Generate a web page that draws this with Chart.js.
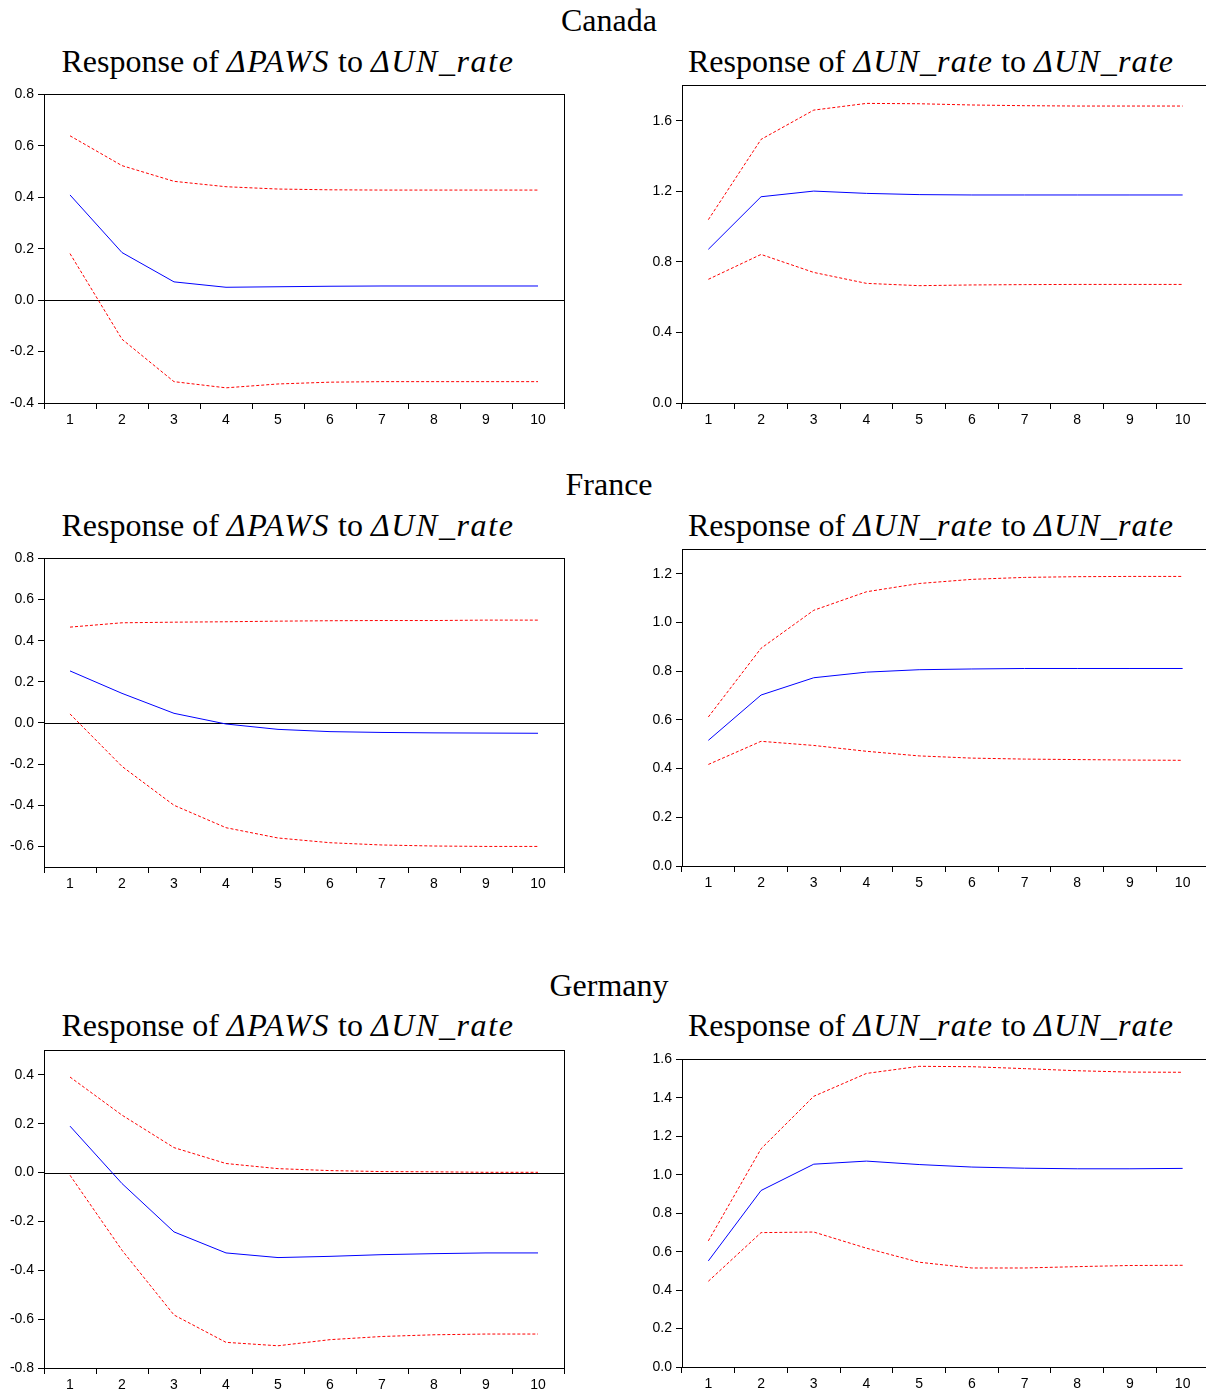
<!DOCTYPE html>
<html>
<head>
<meta charset="utf-8">
<title>Impulse responses to ΔUN_rate</title>
<script src="https://cdn.jsdelivr.net/npm/chart.js@4.4.0/dist/chart.umd.min.js"></script>
<style>
  html, body { margin: 0; padding: 0; background: #fff; }
  body { position: relative; width: 1206px; height: 1391px; overflow: hidden; }
  .t {
    position: absolute;
    font-family: "Liberation Serif", "Times New Roman", serif;
    font-size: 32px;
    line-height: 32px;
    white-space: nowrap;
    color: #000;
    transform: translate(-50%, -50%);
  }
  .m { font-style: italic; letter-spacing: 1.6px; }
  .r .m { letter-spacing: 1.15px; }
  canvas { position: absolute; }
</style>
</head>
<body>

<div class="t" style="left:609px; top:20px;">Canada</div>
<div class="t" style="left:288px; top:61px;">Response of <span class="m">ΔPAWS</span> to <span class="m">ΔUN_rate</span></div>
<div class="t r" style="left:931px; top:61px;">Response of <span class="m">ΔUN_rate</span> to <span class="m">ΔUN_rate</span></div>

<div class="t" style="left:609px; top:484px;">France</div>
<div class="t" style="left:288px; top:525px;">Response of <span class="m">ΔPAWS</span> to <span class="m">ΔUN_rate</span></div>
<div class="t r" style="left:931px; top:525px;">Response of <span class="m">ΔUN_rate</span> to <span class="m">ΔUN_rate</span></div>

<div class="t" style="left:609px; top:985px;">Germany</div>
<div class="t" style="left:288px; top:1025px;">Response of <span class="m">ΔPAWS</span> to <span class="m">ΔUN_rate</span></div>
<div class="t r" style="left:931px; top:1025px;">Response of <span class="m">ΔUN_rate</span> to <span class="m">ΔUN_rate</span></div>

<canvas id="caPaws"></canvas>
<canvas id="caUn"></canvas>
<canvas id="frPaws"></canvas>
<canvas id="frUn"></canvas>
<canvas id="dePaws"></canvas>
<canvas id="deUn"></canvas>

<script>
// Forecast horizons (periods after the shock)
const horizons = ['1', '2', '3', '4', '5', '6', '7', '8', '9', '10'];

// Canada: response of ΔPAWS to ΔUN_rate (point estimate and ±2 S.E. bands)
const caPawsMid = [0.409, 0.185, 0.071, 0.050, 0.052, 0.054, 0.055, 0.055, 0.055, 0.055];
const caPawsHi  = [0.639, 0.523, 0.462, 0.441, 0.432, 0.429, 0.428, 0.428, 0.428, 0.428];
const caPawsLo  = [0.181, -0.152, -0.317, -0.341, -0.326, -0.319, -0.317, -0.317, -0.317, -0.317];

// Canada: response of ΔUN_rate to ΔUN_rate
const caUnMid = [0.871, 1.169, 1.201, 1.188, 1.181, 1.179, 1.179, 1.179, 1.179, 1.179];
const caUnHi  = [1.039, 1.494, 1.660, 1.698, 1.696, 1.689, 1.685, 1.683, 1.683, 1.683];
const caUnLo  = [0.701, 0.842, 0.740, 0.678, 0.665, 0.669, 0.671, 0.672, 0.672, 0.672];

// France: response of ΔPAWS to ΔUN_rate
const frPawsMid = [0.253, 0.144, 0.047, -0.005, -0.031, -0.042, -0.046, -0.048, -0.049, -0.050];
const frPawsHi  = [0.466, 0.487, 0.490, 0.492, 0.495, 0.497, 0.498, 0.498, 0.500, 0.500];
const frPawsLo  = [0.044, -0.211, -0.400, -0.509, -0.559, -0.582, -0.593, -0.598, -0.600, -0.600];

// France: response of ΔUN_rate to ΔUN_rate
const frUnMid = [0.516, 0.702, 0.773, 0.796, 0.806, 0.809, 0.811, 0.811, 0.811, 0.811];
const frUnHi  = [0.612, 0.894, 1.050, 1.126, 1.160, 1.177, 1.185, 1.188, 1.189, 1.189];
const frUnLo  = [0.417, 0.512, 0.495, 0.471, 0.452, 0.443, 0.439, 0.437, 0.435, 0.434];

// Germany: response of ΔPAWS to ΔUN_rate
const dePawsMid = [0.190, -0.045, -0.243, -0.329, -0.348, -0.343, -0.336, -0.332, -0.329, -0.329];
const dePawsHi  = [0.391, 0.235, 0.102, 0.037, 0.016, 0.008, 0.004, 0.003, 0.001, 0.001];
const dePawsLo  = [-0.011, -0.318, -0.583, -0.695, -0.709, -0.684, -0.671, -0.664, -0.661, -0.661];

// Germany: response of ΔUN_rate to ΔUN_rate
const deUnMid = [0.552, 0.918, 1.055, 1.071, 1.053, 1.040, 1.034, 1.031, 1.031, 1.033];
const deUnHi  = [0.656, 1.135, 1.408, 1.527, 1.564, 1.562, 1.552, 1.541, 1.534, 1.533];
const deUnLo  = [0.446, 0.699, 0.702, 0.618, 0.545, 0.515, 0.515, 0.522, 0.528, 0.529];

// Frame around the plot area, plus a zero reference line when zero lies inside the range
const framePlugin = {
  id: 'frame',
  beforeDatasetsDraw(chart) {
    const { ctx, chartArea: a, scales: { y } } = chart;
    if (y.min < 0 && y.max > 0) {
      const py = Math.round(y.getPixelForValue(0)) + 0.5;
      ctx.save();
      ctx.strokeStyle = '#000';
      ctx.lineWidth = 1;
      ctx.beginPath();
      ctx.moveTo(a.left, py);
      ctx.lineTo(a.right, py);
      ctx.stroke();
      ctx.restore();
    }
  },
  afterDraw(chart) {
    const { ctx, chartArea: a } = chart;
    ctx.save();
    ctx.strokeStyle = '#000';
    ctx.lineWidth = 1;
    const l = Math.round(a.left) + 0.5, t = Math.round(a.top) + 0.5;
    const r = Math.round(a.right) + 0.5, b = Math.round(a.bottom) + 0.5;
    ctx.strokeRect(l, t, r - l, b - t);
    ctx.restore();
  }
};

const tickFont = { family: '"Liberation Sans", Arial, sans-serif', size: 14 };

function drawPanel(p) {
  const cv = document.getElementById(p.id);
  const padTop = 12, axisH = 32, yAxisW = 44;
  const cTop = p.top - padTop;
  const cW = p.right - p.left + yAxisW + p.padRight;
  const cH = p.bottom - cTop + axisH;
  cv.width = cW; cv.height = cH;
  cv.style.left = (p.left - yAxisW) + 'px';
  cv.style.top = cTop + 'px';
  cv.style.width = cW + 'px';
  cv.style.height = cH + 'px';

  new Chart(cv, {
    type: 'line',
    data: {
      labels: horizons,
      datasets: [
        { data: p.hi, borderColor: '#ff0000', borderWidth: 1, borderDash: [3, 2] },
        { data: p.lo, borderColor: '#ff0000', borderWidth: 1, borderDash: [3, 2] },
        { data: p.mid, borderColor: '#0000ff', borderWidth: 1 }
      ]
    },
    options: {
      responsive: false,
      animation: false,
      devicePixelRatio: 1,
      layout: { padding: { top: padTop, right: p.padRight, left: 0, bottom: 0 } },
      elements: { point: { radius: 0, hoverRadius: 0 }, line: { tension: 0 } },
      plugins: { legend: { display: false }, tooltip: { enabled: false }, title: { display: false } },
      events: [],
      scales: {
        x: {
          type: 'category',
          offset: true,
          border: { display: false },
          grid: { offset: true, drawOnChartArea: false, drawTicks: true, tickLength: 6, color: '#000' },
          ticks: { autoSkip: false, maxRotation: 0, padding: 3, color: '#000', font: tickFont },
          afterFit(s) { s.height = axisH; }
        },
        y: {
          min: p.min, max: p.max,
          border: { display: false },
          grid: { drawOnChartArea: false, drawTicks: true, tickLength: 6, color: '#000' },
          ticks: {
            stepSize: p.step, includeBounds: false, padding: 4, color: '#000', font: tickFont,
            callback: (v) => (Math.abs(v) < 1e-9 ? 0 : v).toFixed(1)
          },
          afterFit(s) { s.width = yAxisW; }
        }
      }
    },
    plugins: [framePlugin]
  });
}

const panels = [
  { id: 'caPaws', left: 44,  right: 564,  top: 94,   bottom: 403,  padRight: 10, min: -0.4, max: 0.8, step: 0.2, mid: caPawsMid, hi: caPawsHi, lo: caPawsLo },
  { id: 'caUn',   left: 682, right: 1209, top: 85,   bottom: 403,  padRight: 8,  min: 0,    max: 1.8, step: 0.4, mid: caUnMid,   hi: caUnHi,   lo: caUnLo },
  { id: 'frPaws', left: 44,  right: 564,  top: 558,  bottom: 867,  padRight: 10, min: -0.7, max: 0.8, step: 0.2, mid: frPawsMid, hi: frPawsHi, lo: frPawsLo },
  { id: 'frUn',   left: 682, right: 1209, top: 549,  bottom: 866,  padRight: 8,  min: 0,    max: 1.3, step: 0.2, mid: frUnMid,   hi: frUnHi,   lo: frUnLo },
  { id: 'dePaws', left: 44,  right: 564,  top: 1050, bottom: 1368, padRight: 10, min: -0.8, max: 0.5, step: 0.2, mid: dePawsMid, hi: dePawsHi, lo: dePawsLo },
  { id: 'deUn',   left: 682, right: 1209, top: 1059, bottom: 1367, padRight: 8,  min: 0,    max: 1.6, step: 0.2, mid: deUnMid,   hi: deUnHi,   lo: deUnLo }
];

panels.forEach(drawPanel);
</script>
</body>
</html>
